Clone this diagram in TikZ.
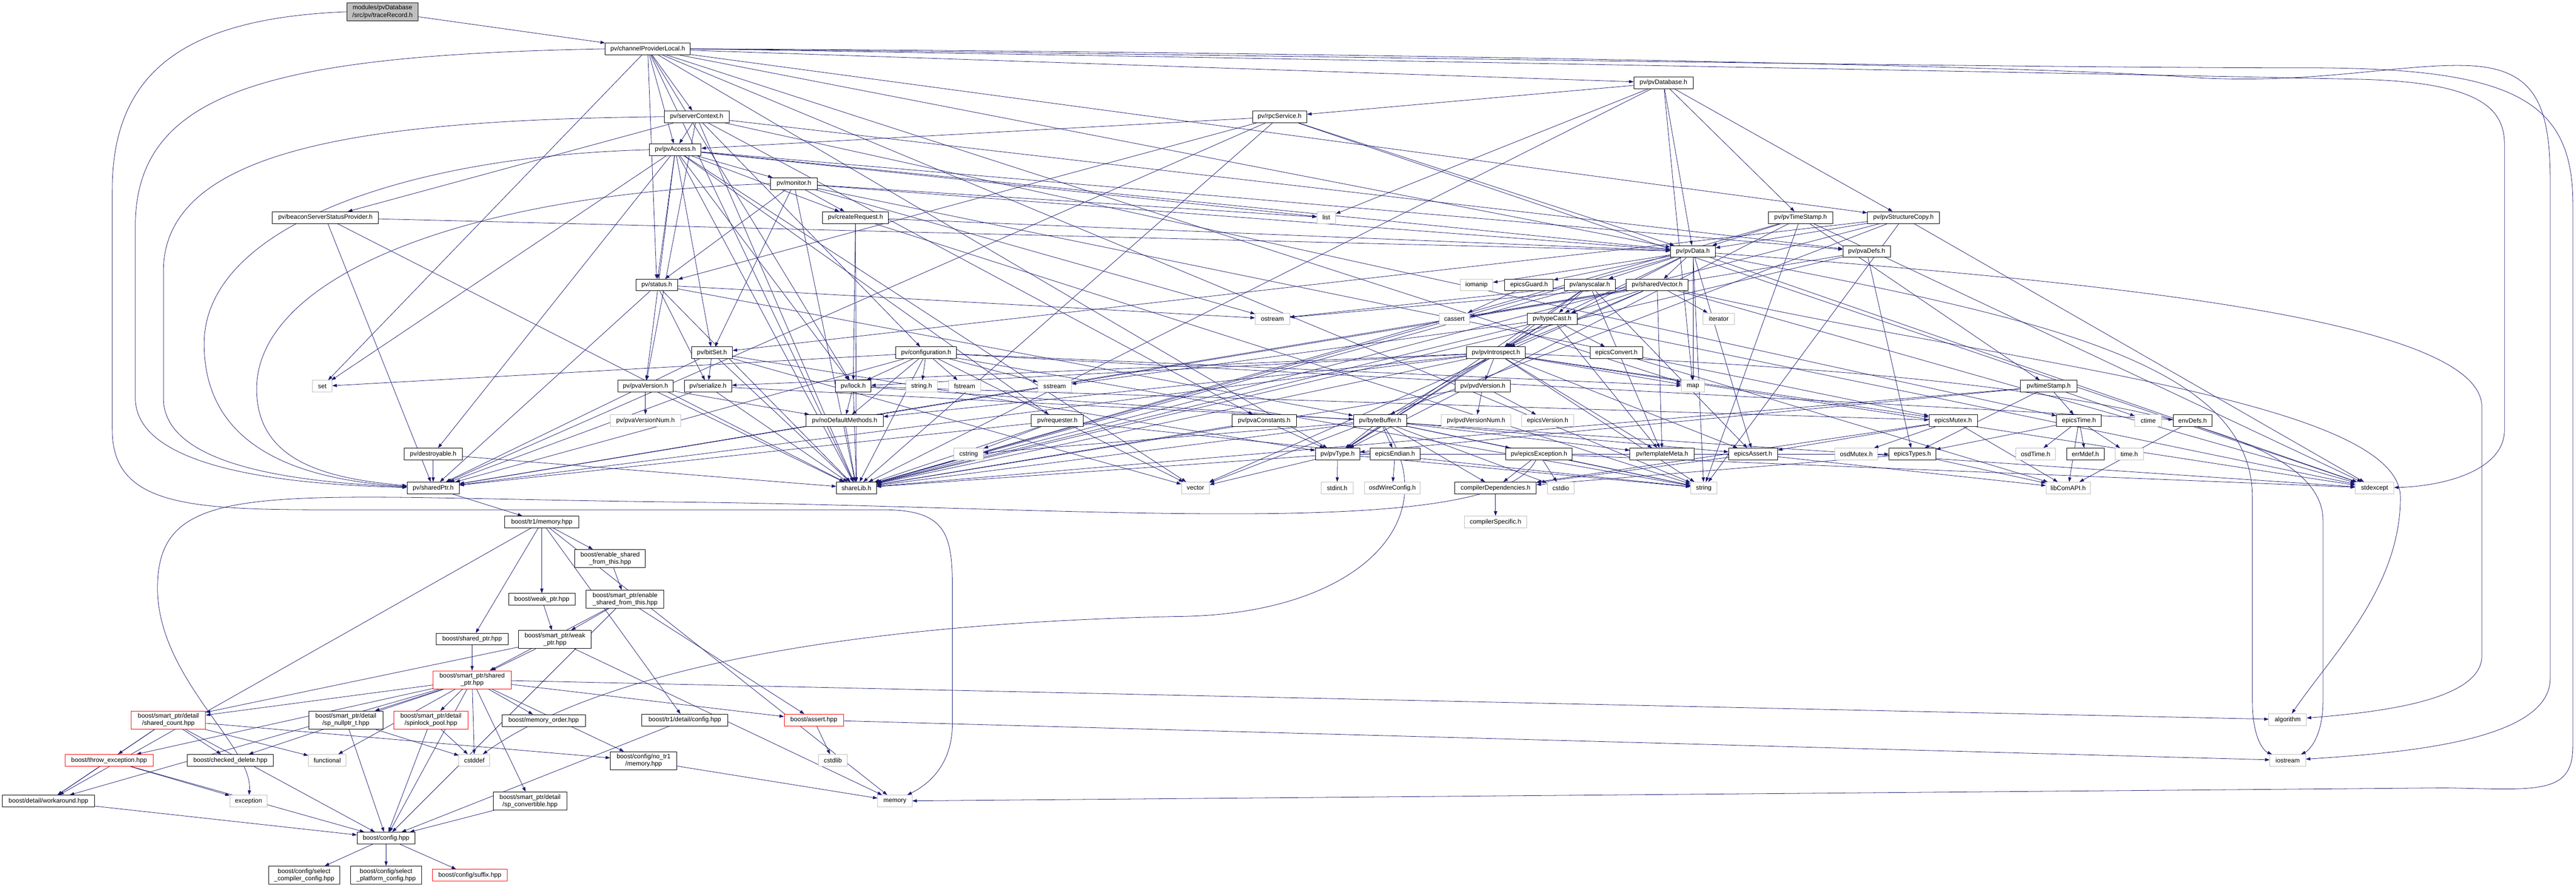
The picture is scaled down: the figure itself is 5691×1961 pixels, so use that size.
\documentclass[tikz,border=0pt]{standalone}
\usepackage{fontspec}
\setmainfont{Liberation Sans}
\usetikzlibrary{arrows.meta}
\definecolor{ec}{HTML}{191970}
\definecolor{gb}{HTML}{BFBFBF}
\pgfdeclarelayer{bg}
\pgfsetlayers{bg,main}
\newcommand\mkn[6]{\node[#1,minimum width=#5pt] (#2) at (#3,#4) {#6};}
\newcommand\edgs[2]{\foreach \tgt in {#2} {\draw[edge] (#1) -- (\tgt);}}
\begin{document}
\begin{tikzpicture}[x=1pt,y=-1pt,
  b/.style={draw=black,fill=white,line width=1pt,minimum height=26pt,inner sep=2pt,font=\fontsize{14}{16}\selectfont},
  g/.style={b,draw=gb},
  r/.style={b,draw=red},
  two/.style={align=center,minimum height=40pt},
  rt/.style={b,two,fill=gb},
  edge/.style={draw=ec,line width=0.9pt,-{Triangle[length=10pt,width=7pt]}}]
\useasboundingbox (0,0) rectangle (5691,1961);
\mkn{rt}{root}{845}{26}{158}{modules/pvDatabase\\/src/pv/traceRecord.h}
\mkn{b}{cpl}{1431}{108}{188}{pv/channelProviderLocal.h}
\mkn{b}{pvDatabase}{3675}{183}{131}{pv/pvDatabase.h}
\mkn{b}{serverContext}{1539}{258}{143}{pv/serverContext.h}
\mkn{b}{rpcService}{2827}{258}{120}{pv/rpcService.h}
\mkn{b}{pvAccess}{1492}{331}{114}{pv/pvAccess.h}
\mkn{b}{monitor}{1754}{406}{103}{pv/monitor.h}
\mkn{b}{beacon}{719}{481}{234}{pv/beaconServerStatusProvider.h}
\mkn{b}{createRequest}{1890}{481}{145}{pv/createRequest.h}
\mkn{g}{list}{2930}{481}{41}{list}
\mkn{b}{pvTimeStamp}{3978}{481}{143}{pv/pvTimeStamp.h}
\mkn{b}{pvStructureCopy}{4205}{481}{159}{pv/pvStructureCopy.h}
\mkn{b}{pvData}{3740}{556}{99}{pv/pvData.h}
\mkn{b}{pvaDefs}{4124}{556}{105}{pv/pvaDefs.h}
\mkn{b}{status}{1451}{630}{93}{pv/status.h}
\mkn{g}{iomanip}{3262}{630}{72}{iomanip}
\mkn{b}{epicsGuard}{3378}{630}{107}{epicsGuard.h}
\mkn{b}{anyscalar}{3512}{630}{113}{pv/anyscalar.h}
\mkn{b}{sharedVector}{3661}{630}{136}{pv/sharedVector.h}
\mkn{g}{ostream}{2811}{705}{76}{ostream}
\mkn{g}{cassert}{3213}{705}{68}{cassert}
\mkn{b}{typeCast}{3429}{705}{110}{pv/typeCast.h}
\mkn{g}{iterator}{3797}{705}{69}{iterator}
\mkn{b}{bitSet}{1573}{780}{90}{pv/bitSet.h}
\mkn{b}{configuration}{2046}{780}{135}{pv/configuration.h}
\mkn{b}{pvIntrospect}{3305}{780}{130}{pv/pvIntrospect.h}
\mkn{b}{epicsConvert}{3571}{780}{117}{epicsConvert.h}
\mkn{g}{set}{712}{854}{43}{set}
\mkn{b}{pvaVersion}{1426}{854}{122}{pv/pvaVersion.h}
\mkn{b}{serialize}{1564}{854}{105}{pv/serialize.h}
\mkn{b}{lock}{1885}{854}{78}{pv/lock.h}
\mkn{g}{stringh}{2036}{854}{70}{string.h}
\mkn{g}{fstream}{2131}{854}{71}{fstream}
\mkn{g}{sstream}{2330}{854}{74}{sstream}
\mkn{b}{pvdVersion}{3276}{854}{122}{pv/pvdVersion.h}
\mkn{g}{map}{3740}{854}{51}{map}
\mkn{b}{timeStamp}{4526}{854}{126}{pv/timeStamp.h}
\mkn{g}{pvaVersionNum}{1426}{930}{156}{pv/pvaVersionNum.h}
\mkn{b}{noDefault}{1866}{930}{170}{pv/noDefaultMethods.h}
\mkn{b}{requester}{2336}{930}{115}{pv/requester.h}
\mkn{b}{pvaConstants}{2793}{930}{142}{pv/pvaConstants.h}
\mkn{b}{byteBuffer}{3049}{930}{118}{pv/byteBuffer.h}
\mkn{g}{pvdVersionNum}{3261}{930}{154}{pv/pvdVersionNum.h}
\mkn{g}{epicsVersion}{3419}{930}{114}{epicsVersion.h}
\mkn{b}{epicsMutex}{4315}{930}{107}{epicsMutex.h}
\mkn{b}{epicsTime}{4593}{930}{99}{epicsTime.h}
\mkn{g}{ctime}{4746}{930}{59}{ctime}
\mkn{b}{envDefs}{4844}{930}{86}{envDefs.h}
\mkn{b}{destroyable}{957}{1004}{128}{pv/destroyable.h}
\mkn{g}{cstring}{2140}{1004}{65}{cstring}
\mkn{b}{pvType}{2955}{1004}{98}{pv/pvType.h}
\mkn{b}{epicsEndian}{3082}{1004}{110}{epicsEndian.h}
\mkn{b}{epicsException}{3400}{1004}{147}{pv/epicsException.h}
\mkn{b}{templateMeta}{3672}{1004}{142}{pv/templateMeta.h}
\mkn{b}{epicsAssert}{3873}{1004}{108}{epicsAssert.h}
\mkn{g}{osdMutex}{4101}{1004}{95}{osdMutex.h}
\mkn{b}{epicsTypes}{4225}{1004}{103}{epicsTypes.h}
\mkn{g}{osdTime}{4497}{1004}{88}{osdTime.h}
\mkn{b}{errMdef}{4607}{1004}{83}{errMdef.h}
\mkn{g}{timeh}{4704}{1004}{62}{time.h}
\mkn{b}{sharedPtr}{957}{1079}{115}{pv/sharedPtr.h}
\mkn{b}{shareLib}{1892}{1079}{88}{shareLib.h}
\mkn{g}{vector}{2641}{1079}{62}{vector}
\mkn{g}{stdint}{2954}{1079}{70}{stdint.h}
\mkn{g}{osdWireConfig}{3076}{1079}{123}{osdWireConfig.h}
\mkn{b}{compilerDep}{3304}{1079}{180}{compilerDependencies.h}
\mkn{g}{cstdio}{3448}{1079}{60}{cstdio}
\mkn{g}{string}{3764}{1079}{58}{string}
\mkn{g}{libComAPI}{4569}{1079}{98}{libComAPI.h}
\mkn{g}{stdexcept}{5246}{1079}{85}{stdexcept}
\mkn{b}{tr1memory}{1197}{1154}{164}{boost/tr1/memory.hpp}
\mkn{g}{compilerSpecific}{3304}{1154}{137}{compilerSpecific.h}
\mkn{b,two}{enablesft}{1348}{1235}{156}{boost/enable\_shared\\\_from\_this.hpp}
\mkn{b}{weakptr}{1197}{1325}{147}{boost/weak\_ptr.hpp}
\mkn{b,two}{spenable}{1381}{1325}{172}{boost/smart\_ptr/enable\\\_shared\_from\_this.hpp}
\mkn{b}{sharedptrhpp}{1043}{1413}{159}{boost/shared\_ptr.hpp}
\mkn{b,two}{spweak}{1226}{1414}{161}{boost/smart\_ptr/weak\\\_ptr.hpp}
\mkn{r,two}{spshared}{1043}{1503}{173}{boost/smart\_ptr/shared\\\_ptr.hpp}
\mkn{r,two}{sharedcount}{372}{1592}{164}{boost/smart\_ptr/detail\\/shared\_count.hpp}
\mkn{b,two}{spnullptr}{764}{1592}{164}{boost/smart\_ptr/detail\\/sp\_nullptr\_t.hpp}
\mkn{r,two}{spinlock}{952}{1592}{164}{boost/smart\_ptr/detail\\/spinlock\_pool.hpp}
\mkn{b}{memorder}{1201}{1593}{184}{boost/memory\_order.hpp}
\mkn{b}{tr1config}{1513}{1592}{190}{boost/tr1/detail/config.hpp}
\mkn{r}{bassert}{1798}{1592}{131}{boost/assert.hpp}
\mkn{g}{algorithm}{5054}{1591}{83}{algorithm}
\mkn{r}{throwexc}{241}{1681}{194}{boost/throw\_exception.hpp}
\mkn{b}{checkeddelete}{509}{1681}{190}{boost/checked\_delete.hpp}
\mkn{g}{functional}{723}{1681}{83}{functional}
\mkn{g}{cstddef}{1048}{1681}{68}{cstddef}
\mkn{b,two}{notrmemory}{1422}{1682}{147}{boost/config/no\_tr1\\/memory.hpp}
\mkn{g}{cstdlib}{1840}{1681}{63}{cstdlib}
\mkn{g}{iostream}{5054}{1681}{79}{iostream}
\mkn{b}{workaround}{107}{1771}{203}{boost/detail/workaround.hpp}
\mkn{g}{exception}{549}{1771}{82}{exception}
\mkn{b,two}{spconvertible}{1171}{1771}{163}{boost/smart\_ptr/detail\\/sp\_convertible.hpp}
\mkn{g}{memory}{1977}{1771}{76}{memory}
\mkn{b}{config}{853}{1853}{128}{boost/config.hpp}
\mkn{b,two}{selcompiler}{672}{1935}{156}{boost/config/select\\\_compiler\_config.hpp}
\mkn{b,two}{selplatform}{853}{1935}{156}{boost/config/select\\\_platform\_config.hpp}
\mkn{r}{suffix}{1038}{1935}{165}{boost/config/suffix.hpp}
\begin{pgfonlayer}{bg}
\edgs{root}{cpl}
\edgs{cpl}{serverContext,pvAccess,status,pvDatabase,pvData,pvStructureCopy,map,string,set,shareLib,lock,pvType}
\edgs{serverContext}{pvAccess,beacon,configuration,pvaVersion,pvaDefs,pvaConstants,epicsTime,shareLib}
\edgs{rpcService}{pvAccess,status,sharedPtr,shareLib,stdexcept,pvData}
\edgs{pvAccess}{monitor,createRequest,status,destroyable,bitSet,pvaVersion,pvaDefs,shareLib,set,vector,pvData,requester,lock,list}
\edgs{monitor}{list,ostream,epicsMutex,status,pvData,bitSet,createRequest,shareLib}
\edgs{beacon}{pvData,sharedPtr,shareLib}
\edgs{createRequest}{pvData,lock,shareLib,string}
\edgs{pvDatabase}{rpcService,list,map,pvData,pvTimeStamp,pvStructureCopy,shareLib}
\edgs{pvTimeStamp}{string,stdexcept,pvType,timeStamp,pvData,shareLib}
\edgs{pvStructureCopy}{pvData,bitSet,shareLib,string,stdexcept,vector}
\edgs{pvData}{string,map,stdexcept,iomanip,epicsAssert,epicsGuard,pvIntrospect,typeCast,anyscalar,sharedVector,shareLib}
\edgs{pvaDefs}{epicsTypes,sharedPtr,shareLib}
\edgs{status}{ostream,serialize,byteBuffer,sharedPtr,shareLib}
\edgs{anyscalar}{ostream,templateMeta,typeCast,pvIntrospect,epicsAssert,pvType,shareLib}
\edgs{sharedVector}{ostream,stdexcept,iterator,cassert,sharedPtr,pvIntrospect,typeCast,templateMeta,vector}
\edgs{epicsGuard}{cassert}
\edgs{typeCast}{stdexcept,sstream,epicsConvert,pvType,pvIntrospect,templateMeta,shareLib}
\edgs{pvIntrospect}{string,stdexcept,map,epicsMutex,epicsAssert,lock,noDefault,pvType,byteBuffer,serialize,pvdVersion,templateMeta,shareLib,sharedPtr}
\edgs{epicsConvert}{libComAPI}
\edgs{bitSet}{vector,pvType,serialize,sharedPtr,shareLib}
\edgs{configuration}{stringh,sstream,fstream,map,set,string,vector,noDefault,lock,sharedPtr,envDefs,shareLib}
\edgs{pvaVersion}{pvaVersionNum,noDefault,shareLib}
\edgs{serialize}{byteBuffer,sharedPtr,shareLib}
\edgs{lock}{stdexcept,epicsMutex,shareLib,noDefault}
\edgs{pvdVersion}{epicsVersion,pvdVersionNum,shareLib}
\edgs{timeStamp}{ctime,epicsTime,epicsTypes,pvType,shareLib}
\edgs{noDefault}{shareLib}
\edgs{requester}{string,sharedPtr,shareLib,cstring}
\edgs{pvaConstants}{pvType,shareLib}
\edgs{byteBuffer}{string,cstring,cstdio,epicsEndian,shareLib,epicsAssert,compilerDep,templateMeta,pvType,epicsException}
\edgs{epicsMutex}{epicsAssert,osdMutex,compilerDep,libComAPI}
\edgs{epicsTime}{osdTime,errMdef,timeh,epicsTypes,libComAPI}
\edgs{envDefs}{libComAPI}
\edgs{destroyable}{sharedPtr,shareLib}
\edgs{pvType}{stdint,string,vector,epicsTypes,shareLib}
\edgs{epicsEndian}{osdWireConfig}
\edgs{epicsException}{cstdio,string,stdexcept,compilerDep}
\edgs{epicsAssert}{compilerDep,libComAPI}
\edgs{epicsTypes}{compilerDep,libComAPI}
\edgs{sharedPtr}{tr1memory}
\edgs{compilerDep}{compilerSpecific}
\edgs{tr1memory}{tr1config,sharedptrhpp,weakptr,enablesft,memory,workaround}
\edgs{enablesft}{spenable}
\edgs{weakptr}{spweak}
\edgs{spenable}{spweak,spshared,bassert,config}
\edgs{sharedptrhpp}{spshared}
\edgs{spweak}{spshared,sharedcount,memory}
\edgs{spshared}{sharedcount,spnullptr,spinlock,memorder,cstddef,config,throwexc,checkeddelete,functional,workaround,spconvertible,bassert,notrmemory,algorithm}
\edgs{sharedcount}{throwexc,checkeddelete,functional,workaround,config,notrmemory}
\edgs{spnullptr}{config,cstddef}
\edgs{spinlock}{config,cstddef}
\edgs{tr1config}{config}
\edgs{bassert}{cstdlib,iostream}
\edgs{throwexc}{workaround,exception,config}
\edgs{notrmemory}{memory}
\edgs{workaround}{config}
\edgs{spconvertible}{config}
\edgs{config}{selcompiler,selplatform,suffix}
% long routed edges
\draw[edge] (root.west) .. controls (420,40) and (248,150) .. (248,420) -- (248,950) .. controls (248,1110) and (400,1127) .. (700,1127) -- (1950,1127) .. controls (2090,1127) and (2104,1180) .. (2104,1300) -- (2104,1600) .. controls (2104,1700) and (2040,1740) .. (memory);
\draw[edge] (cpl.west) .. controls (600,122) and (299,200) .. (299,500) -- (299,880) .. controls (299,1040) and (650,1072) .. (sharedPtr);
\draw[edge] (serverContext.west) .. controls (800,265) and (361,330) .. (361,600) -- (361,880) .. controls (361,1030) and (650,1066) .. (sharedPtr);
\draw[edge] (pvAccess.west) .. controls (900,345) and (451,500) .. (451,760) .. controls (451,1000) and (680,1062) .. (sharedPtr);
\draw[edge] (monitor.west) .. controls (1000,430) and (567,620) .. (567,860) .. controls (567,1020) and (720,1058) .. (sharedPtr);
\draw[edge] (cpl.east) .. controls (2600,118) and (4300,150) .. (5100,150) .. controls (5550,150) and (5684,220) .. (5684,450) -- (5684,1650) .. controls (5684,1760) and (5600,1745) .. (5400,1742) -- (memory);
\draw[edge] (cpl.east) .. controls (2600,125) and (4500,160) .. (5200,175) .. controls (5480,180) and (5533,240) .. (5533,320) -- (5533,950) .. controls (5533,1040) and (5400,1075) .. (stdexcept);
\draw[edge] (cpl.east) .. controls (2600,112) and (4400,140) .. (4825,170) .. controls (5100,190) and (5300,140) .. (5450,145) .. controls (5600,150) and (5634,230) .. (5634,400) -- (5634,1500) .. controls (5634,1640) and (5300,1665) .. (iostream);
\draw[edge] (pvData) .. controls (4600,620) and (5483,700) .. (5483,900) -- (5483,1450) .. controls (5483,1550) and (5250,1575) .. (algorithm);
\draw[edge] (sharedVector) .. controls (4400,800) and (5303,880) .. (5303,1100) .. controls (5303,1300) and (5150,1450) .. (algorithm);
\draw[edge] (pvData) .. controls (4500,700) and (4976,800) .. (4976,1100) -- (4976,1550) .. controls (4976,1630) and (5000,1660) .. (iostream);
\draw[edge] (pvIntrospect) .. controls (4300,820) and (5132,900) .. (5132,1150) -- (5132,1550) .. controls (5132,1630) and (5100,1660) .. (iostream);
\draw[edge] (epicsException) .. controls (3300,1200) and (2400,1120) .. (1500,1110) .. controls (600,1100) and (348,1050) .. (348,1300) .. controls (348,1500) and (560,1650) .. (exception);
\draw[edge] (byteBuffer) .. controls (3200,1150) and (3000,1360) .. (2600,1363) .. controls (1800,1380) and (1300,1500) .. (cstddef);
\end{pgfonlayer}
\end{tikzpicture}
\end{document}
